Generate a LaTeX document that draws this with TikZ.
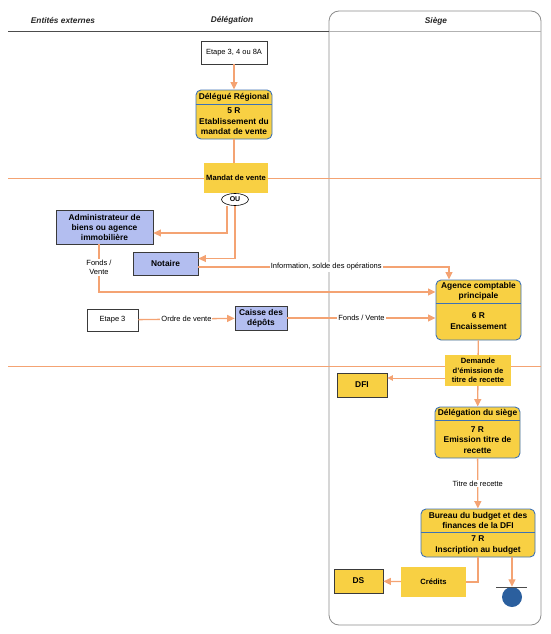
\documentclass[tikz,border=0pt]{standalone}
\usepackage{fontspec}
\setmainfont{Liberation Sans}
\usetikzlibrary{arrows.meta,shapes.geometric}
\definecolor{orl}{HTML}{F4A373}
\definecolor{yel}{HTML}{F8D043}
\definecolor{blf}{HTML}{B3BEF0}
\definecolor{bbd}{HTML}{3D72B5}
\definecolor{dkb}{HTML}{3A3A3A}
\definecolor{endcol}{HTML}{2B5F9E}
\definecolor{lanec}{HTML}{8C8C8C}
\begin{document}
\begin{tikzpicture}[x=1pt,y=-1pt,
  oline/.style={draw=orl, line width=1.3pt},
  oarr/.style={oline, -{Triangle[length=7.5pt,width=7pt]}},
  tarr/.style={draw=orl, line width=0.8pt, -{Triangle[length=5.5pt,width=5.5pt]}},
  ybox/.style={draw=bbd, line width=0.9pt, fill=yel, rounded corners=5pt, inner sep=0pt},
  bbox/.style={draw=dkb, line width=0.8pt, fill=blf, inner sep=0pt, font=\bfseries\fontsize{8.4}{10}\selectfont, align=center},
  wbox/.style={draw=dkb, line width=0.6pt, fill=white, inner sep=0pt, font=\fontsize{7.5}{9}\selectfont},
  yrect/.style={fill=yel, inner sep=0pt, font=\bfseries\fontsize{7.6}{9.5}\selectfont, align=center},
  ydk/.style={fill=yel, draw=dkb, line width=0.8pt, inner sep=0pt, font=\bfseries\fontsize{8.4}{10}\selectfont},
  btxt/.style={font=\bfseries\fontsize{8.4}{10.5}\selectfont, align=center, inner sep=0pt},
  lbl/.style={fill=white, inner sep=1pt, font=\fontsize{7.5}{9}\selectfont, align=center},
  hdr/.style={font=\bfseries\itshape\fontsize{8.3}{10}\selectfont, text=black!85}
]
\useasboundingbox (0,0) rectangle (550,634);
% swimlanes
\draw[lanec, line width=0.8pt, rounded corners=10pt] (329,11) rectangle (541,625);
\draw[black!30, line width=0.6pt] (329,31) -- (541,31);
\draw[black!70, line width=0.9pt] (8,31) -- (329,31);
\node[hdr] (h1) at (63,20) {Entités externes};
\node[hdr] (h2) at (232,20) {Délégation};
\node[hdr] (h3) at (436,21) {Siège};
% phase lines
\draw[oline, line width=1pt] (8,178) -- (541,178);
\draw[oline, line width=1pt] (8,366) -- (541,366);
% nodes
\node[wbox, minimum width=66pt, minimum height=23pt] (et) at (234,52.5) {Etape 3, 4 ou 8A};
\node[ybox, minimum width=76pt, minimum height=49pt] (dr) at (234,114.5) {};
\draw[bbd, line width=0.9pt] (dr.west |- 0,104) -- (dr.east |- 0,104);
\node[btxt] (drh) at (234,97) {Délégué Régional};
\node[btxt] (drb) at (234,121.5) {5 R\\Etablissement du\\mandat de vente};
\node[yrect, minimum width=64pt, minimum height=30pt] (mv) at (236,178) {Mandat de vente};
\node[ellipse, draw=black, line width=0.6pt, fill=white, minimum width=27pt, minimum height=12pt, inner sep=0pt, font=\bfseries\fontsize{7}{8}\selectfont] (ou) at (235,199.5) {OU};
\node[bbox, minimum width=97pt, minimum height=34pt] (adm) at (104.5,227) {Administrateur de\\biens ou agence\\immobilière};
\node[bbox, minimum width=65pt, minimum height=23pt] (no) at (165.5,263.5) {Notaire};
\node[ybox, minimum width=85pt, minimum height=60pt] (acp) at (478.5,310) {};
\draw[bbd, line width=0.9pt] (acp.west |- 0,303) -- (acp.east |- 0,303);
\node[btxt] (acph) at (478.5,291.5) {Agence comptable\\principale};
\node[btxt] (acpb) at (478.5,321) {6 R\\Encaissement};
\node[wbox, minimum width=51pt, minimum height=22pt] (et3) at (112.5,320) {Etape 3};
\node[bbox, minimum width=52pt, minimum height=24pt] (cd) at (261,318) {Caisse des\\dépôts};
\node[yrect, minimum width=66pt, minimum height=31pt] (dem) at (478,370.5) {Demande\\d'émission de\\titre de recette};
\node[ydk, minimum width=50pt, minimum height=24pt] (dfi) at (362,385) {DFI};
\node[ybox, minimum width=85pt, minimum height=51pt] (dsg) at (477.5,432.5) {};
\draw[bbd, line width=0.9pt] (dsg.west |- 0,420) -- (dsg.east |- 0,420);
\node[btxt] (dsgh) at (477.5,413.5) {Délégation du siège};
\node[btxt] (dsgb) at (477.5,440) {7 R\\Emission titre de\\recette};
\node[ybox, minimum width=114pt, minimum height=48pt] (bur) at (478,533) {};
\draw[bbd, line width=0.9pt] (bur.west |- 0,532) -- (bur.east |- 0,532);
\node[btxt] (burh) at (478,520.5) {Bureau du budget et des\\finances de la DFI};
\node[btxt] (burb) at (478,545) {7 R\\Inscription au budget};
\node[yrect, minimum width=65pt, minimum height=30pt] (cred) at (433.5,582) {Crédits};
\node[ydk, minimum width=49pt, minimum height=24pt] (dsn) at (358.5,581) {DS};
\node[circle, fill=endcol, minimum size=20pt, inner sep=0pt] (endn) at (512,597) {};
\coordinate (barl) at (496,587);
\coordinate (barr) at (527,587);
\draw[black!70, line width=0.8pt] (barl) -- (barr);
% connectors
\draw[oarr] (et) -- (dr);
\draw[oline] (dr) -- (dr |- mv.north);
\draw[oarr] ([xshift=-8pt]ou.south) |- ([yshift=-6pt]adm.east);
\draw[oarr] (ou.south) |- ([yshift=5pt]no.east);
\draw[oarr] ([xshift=-5.5pt]adm.south) |- node[lbl, pos=0.24] {Fonds /\\Vente} ([yshift=18pt]acp.west);
\draw[oarr] ([yshift=-3.5pt]no.east) -| node[lbl, pos=0.255] {Information, solde des opérations} ([xshift=-29.5pt]acp.north);
\draw[oarr] (et3) -- node[lbl] {Ordre de vente} (cd);
\draw[oarr] (cd.east) -- node[lbl] {Fonds / Vente} (cd.east -| acp.west);
\draw[oline] (acp) -- (dem);
\draw[tarr] ([yshift=-7.5pt]dem.west) -- ([yshift=-7.5pt]dem.west -| dfi.east);
\draw[oarr] (dem) -- (dsg);
\draw[oarr] (dsg) -- node[lbl] {Titre de recette} (bur);
\draw[oline] (bur.south) |- (cred.east);
\draw[oarr] (cred) -- (dsn);
\draw[oarr] ([xshift=34pt]bur.south) -- (endn.north);
\end{tikzpicture}
\end{document}
